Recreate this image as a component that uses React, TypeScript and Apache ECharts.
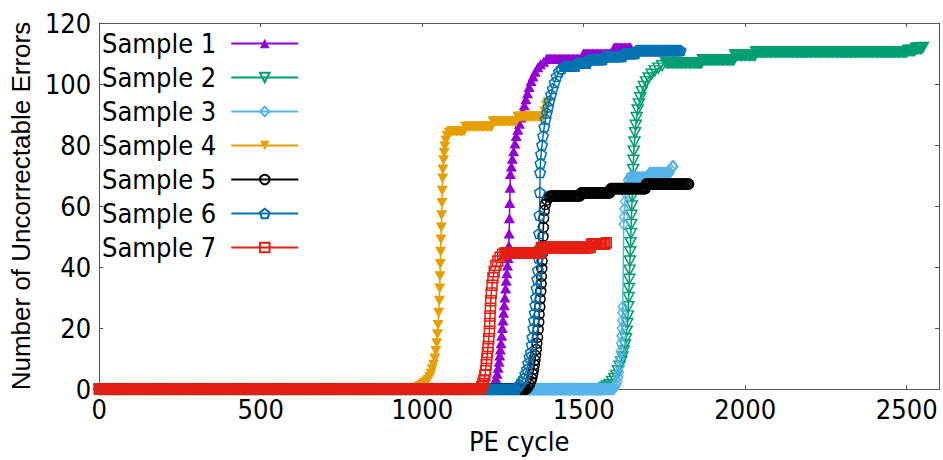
import React, { useEffect, useRef } from "react";
import * as echarts from "echarts";

// ---- axis settings ----
const X_MIN = 0;
const X_MAX = 2600;
const X_INTERVAL = 500;
const Y_MIN = 0;
const Y_MAX = 120;
const Y_INTERVAL = 20;
const X_TITLE = "PE cycle";
const Y_TITLE = "Number of Uncorrectable Errors";

const seriesNames = ["Sample 1", "Sample 2", "Sample 3", "Sample 4", "Sample 5", "Sample 6", "Sample 7"];
const seriesColors = ["#9400d3", "#009e73", "#56b4e9", "#e69f00", "#000000", "#0072b2", "#e51e10"];

// Readings: [x, y] = single reading; [x0, x1, y] = constant run of readings (one every RUN_STEP cycles)
type Reading = number[];
const RUN_STEP = 4;

const sample1: Reading[] = [
  [0, 1210, 0],
  [1215, 0.5], [1220, 1], [1224, 2], [1228, 3.5], [1232, 5], [1235, 7], [1238, 9], [1240, 11], [1242, 13],
  [1244, 15], [1246, 17.5], [1248, 20], [1250, 22.5], [1252, 25], [1254, 27.5], [1256, 30], [1258, 33],
  [1260, 35.5], [1262, 38], [1264, 40.5], [1266, 43], [1268, 47], [1269, 51], [1270, 56], [1271, 61],
  [1272, 66], [1273, 70.5], [1276, 73], [1279, 75.5], [1283, 78], [1287, 80.5], [1291, 83], [1296, 85],
  [1301, 87], [1306, 89], [1311, 91], [1316, 93], [1321, 95], [1326, 97], [1331, 99], [1337, 101],
  [1343, 102.5], [1350, 104], [1358, 105.5], [1366, 106.5], [1376, 107.3],
  [1385, 1495, 108.3], [1499, 1590, 110], [1594, 1645, 112],
];

const sample2: Reading[] = [
  [0, 1560, 0],
  [1565, 0.5], [1572, 1], [1580, 1.5], [1588, 2.5], [1595, 3.5], [1601, 4.5], [1606, 6], [1611, 7.5],
  [1616, 9], [1620, 10.5], [1624, 12.5], [1628, 14.5], [1631, 16.5], [1633, 19], [1635, 21.5], [1637, 24],
  [1638, 27], [1639, 30], [1640, 33], [1641, 36], [1642, 39], [1643, 42], [1644, 45], [1645, 48],
  [1646, 51], [1647, 54], [1648, 57], [1649, 60], [1650, 63], [1651, 66], [1652, 69], [1653, 72],
  [1654, 75], [1655, 78], [1657, 81], [1659, 84], [1661, 86.5], [1664, 89], [1667, 91.5], [1671, 93.5],
  [1675, 95.5], [1680, 97.5], [1686, 99.2], [1693, 100.7], [1701, 102], [1710, 103.2], [1720, 104.3],
  [1731, 105.2], [1743, 106],
  [1755, 1865, 107], [1869, 1965, 108], [1969, 2030, 109.5], [2034, 2500, 110.5], [2505, 2525, 111],
  [2530, 2545, 111.7], [2550, 112],
];

const sample3: Reading[] = [
  [0, 1592, 0],
  [1597, 0.7], [1601, 1.5], [1604, 2.5], [1607, 4], [1609, 5.5], [1611, 7.5], [1613, 10], [1615, 12.5],
  [1616, 15], [1617, 17.5], [1618, 20], [1619, 22.5], [1620, 25], [1621, 27], [1624, 54], [1625, 56.5],
  [1626, 59], [1628, 61.5], [1630, 64], [1633, 66.5], [1637, 68.5],
  [1641, 1700, 69.3], [1704, 1765, 70.8], [1769, 72], [1774, 73], [1778, 73],
];

const sample4: Reading[] = [
  [0, 980, 0],
  [986, 0.5], [993, 1], [1000, 1.5], [1007, 2], [1013, 2.5], [1018, 3], [1023, 4], [1027, 5], [1031, 6.5],
  [1035, 8], [1039, 10], [1042, 12.5], [1045, 15], [1047, 18], [1049, 21], [1051, 25], [1053, 29],
  [1054, 33], [1055, 37], [1056, 41], [1057, 45], [1058, 49], [1059, 53], [1060, 57], [1061, 61],
  [1062, 65], [1063, 69], [1064, 72], [1066, 75], [1068, 77.5], [1070, 79.5], [1073, 81.5], [1077, 83],
  [1083, 84],
  [1090, 1130, 84.5], [1134, 1215, 86], [1219, 1292, 87.7], [1296, 1375, 89.3], [1379, 91], [1384, 93],
  [1390, 94],
];

const sample5: Reading[] = [
  [0, 1322, 0],
  [1327, 0.7], [1332, 1.5], [1336, 2.5], [1339, 3.5], [1342, 5], [1345, 6.5], [1347, 8], [1349, 9.5],
  [1351, 11], [1353, 13], [1355, 15], [1357, 17], [1359, 19.5], [1361, 22], [1362, 24.5], [1364, 27],
  [1365, 29.5], [1367, 32], [1368, 34.5], [1369, 37], [1370, 39.5], [1371, 42], [1372, 44.5], [1373, 47],
  [1374, 50], [1375, 53], [1376, 56], [1378, 58.5], [1381, 60.5], [1386, 62], [1392, 63],
  [1397, 1488, 63.3], [1492, 1580, 64.3], [1584, 1690, 65.7], [1694, 1825, 67.2],
];

const sample6: Reading[] = [
  [0, 1290, 0],
  [1296, 0.8], [1302, 1.5], [1308, 2.5], [1314, 3.5], [1319, 5], [1324, 6.5], [1328, 8.5], [1332, 10.5],
  [1336, 12], [1339, 14.5], [1341, 17], [1344, 20], [1346, 22.5], [1348, 25], [1350, 27.5], [1352, 30],
  [1354, 33], [1356, 36], [1358, 39], [1360, 43], [1361, 46], [1362, 51], [1363, 57], [1364, 64.5],
  [1365, 71], [1366, 74], [1368, 77], [1371, 80], [1374, 83], [1378, 86], [1382, 88.5], [1386, 90.5],
  [1390, 92.5], [1394, 94.5], [1399, 96.5], [1404, 98.5], [1410, 100.5], [1416, 102.5], [1423, 104],
  [1431, 105],
  [1438, 1475, 105.8], [1479, 1510, 106.8], [1514, 1560, 108], [1564, 1620, 109], [1624, 1660, 110],
  [1664, 1800, 111],
];

const sample7: Reading[] = [
  [0, 1180, 0],
  [1184, 0.8], [1188, 1.8], [1191, 3], [1194, 4.5], [1196, 6], [1198, 8], [1200, 10], [1202, 12],
  [1204, 14], [1206, 16.5], [1208, 19], [1209, 21.5], [1210, 24], [1211, 26.5], [1212, 29], [1214, 31.5],
  [1216, 34], [1219, 36.5], [1223, 38.5], [1228, 40.5], [1234, 42], [1241, 43.2], [1249, 44.2],
  [1256, 1365, 44.6], [1369, 1520, 46.4], [1524, 1565, 47.6], [1570, 48],
];

const allReadings = [sample1, sample2, sample3, sample4, sample5, sample6, sample7];

const PENTAGON = "path://M0,-5.5L5.231,-1.7L3.233,4.45L-3.233,4.45L-5.231,-1.7Z";
const markers = [
  { symbol: "triangle", size: [11, 10], rotate: 0, filled: true },
  { symbol: "triangle", size: [11, 10], rotate: 180, filled: false },
  { symbol: "diamond", size: [9, 11], rotate: 0, filled: false },
  { symbol: "triangle", size: [11, 10], rotate: 180, filled: true },
  { symbol: "circle", size: 10, rotate: 0, filled: false },
  { symbol: PENTAGON, size: [10.5, 10], rotate: 0, filled: false },
  { symbol: "rect", size: 10, rotate: 0, filled: false },
];

function expand(readings: Reading[]): number[][] {
  const out: number[][] = [];
  for (const r of readings) {
    if (r.length === 3) {
      const [x0, x1, y] = r;
      let x = x0;
      for (; x <= x1; x += RUN_STEP) out.push([x, y]);
      if (x - RUN_STEP < x1) out.push([x1, y]);
    } else {
      out.push([r[0], r[1]]);
    }
  }
  return out;
}

const FONT = "'DejaVu Sans Condensed', 'DejaVu Sans', sans-serif";
const AXIS_COLOR = "#555555";

export default function App() {
  const ref = useRef<HTMLDivElement>(null);
  useEffect(() => {
    if (!ref.current) return;
    const chart = echarts.init(ref.current, undefined, { renderer: "svg" });
    const axisLine = { show: true, onZero: false, lineStyle: { color: AXIS_COLOR, width: 1 } };
    const axisTick = { show: true, inside: true, length: 4, lineStyle: { color: AXIS_COLOR, width: 1 } };
    const series = allReadings.map((r, i) => {
      const m = markers[i];
      const c = seriesColors[i];
      return {
        name: seriesNames[i],
        type: "line",
        data: expand(r),
        xAxisIndex: 0,
        yAxisIndex: 0,
        symbol: m.symbol,
        symbolSize: m.size,
        symbolRotate: m.rotate,
        showSymbol: true,
        showAllSymbol: true,
        clip: false,
        silent: true,
        lineStyle: { color: c, width: 1.5 },
        itemStyle: m.filled
          ? { color: c, borderWidth: 0 }
          : { color: "rgba(0,0,0,0)", borderColor: c, borderWidth: 1.5 },
        emphasis: { disabled: true },
        z: 2 + i,
      };
    });
    chart.setOption({
      animation: false,
      backgroundColor: "#ffffff",
      grid: { left: 91, right: 4, top: 23, bottom: 68, containLabel: false },
      legend: {
        orient: "vertical",
        left: 102,
        top: 30,
        align: "right",
        itemWidth: 67,
        itemHeight: 12,
        itemGap: 7,
        padding: 0,
        selectedMode: false,
        data: seriesNames,
        textStyle: { fontSize: 27, fontFamily: FONT, color: "#000", padding: [0, 10, 0, 0] },
      },
      xAxis: [
        {
          type: "value",
          position: "bottom",
          min: X_MIN,
          max: X_MAX,
          interval: X_INTERVAL,
          axisLine,
          axisTick,
          splitLine: { show: false },
          axisLabel: {
            fontSize: 27,
            fontFamily: FONT,
            color: "#000",
            margin: 7,
            showMaxLabel: false,
            formatter: (v: number) => String(v),
          },
          name: X_TITLE,
          nameLocation: "middle",
          nameGap: 36,
          nameTextStyle: { fontSize: 27, fontFamily: FONT, color: "#000" },
        },
        {
          type: "value",
          position: "top",
          min: X_MIN,
          max: X_MAX,
          interval: X_INTERVAL,
          axisLine,
          axisTick,
          splitLine: { show: false },
          axisLabel: { show: false },
        },
      ],
      yAxis: [
        {
          type: "value",
          position: "left",
          min: Y_MIN,
          max: Y_MAX,
          interval: Y_INTERVAL,
          axisLine,
          axisTick,
          splitLine: { show: false },
          axisLabel: { fontSize: 27, fontFamily: FONT, color: "#000", margin: 8, formatter: (v: number) => String(v) },
          name: Y_TITLE,
          nameLocation: "middle",
          nameRotate: 90,
          nameGap: 52,
          nameTextStyle: { fontSize: 26, fontFamily: "'Liberation Sans', Arial, sans-serif", color: "#000" },
        },
        {
          type: "value",
          position: "right",
          min: Y_MIN,
          max: Y_MAX,
          interval: Y_INTERVAL,
          axisLine,
          axisTick,
          splitLine: { show: false },
          axisLabel: { show: false },
        },
      ],
      series,
    });
    return () => chart.dispose();
  }, []);
  return <div ref={ref} style={{ position: "fixed", left: 0, top: 0, width: 943, height: 460 }} />;
}
